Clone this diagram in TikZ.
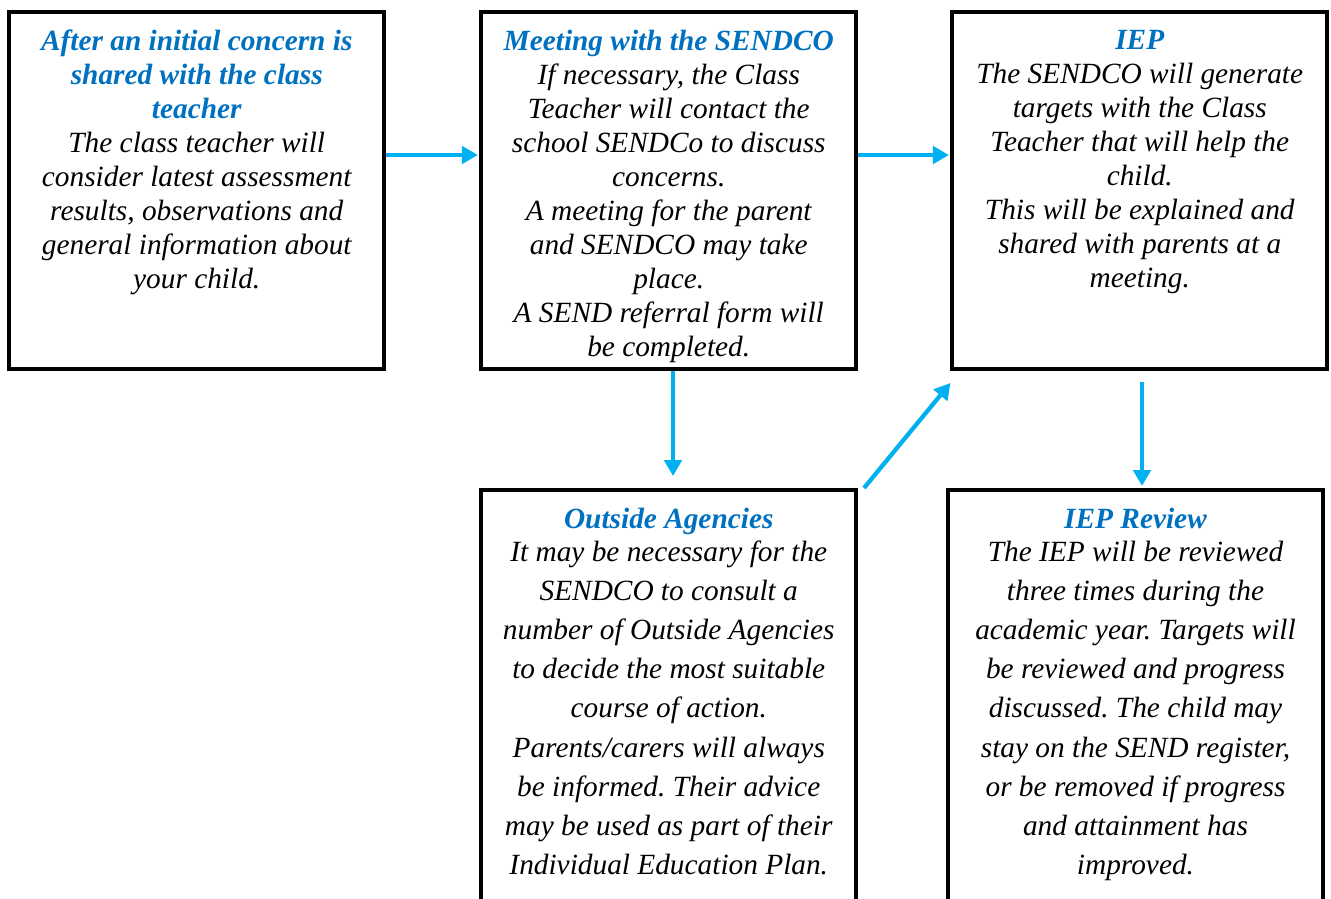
\documentclass[tikz,border=0pt]{standalone}
\usepackage{fontspec}
\setmainfont{Liberation Serif}
\usetikzlibrary{arrows.meta,positioning,calc}
\definecolor{headblue}{HTML}{0070C0}
\definecolor{flowblue}{HTML}{00B0F0}
\newcommand{\head}[1]{\textcolor{headblue}{\bfseries #1}}
\frenchspacing

\begin{document}
\begin{tikzpicture}[x=0.75pt,y=-0.75pt,
  box/.style={draw, line width=3pt, minimum width=280.9pt},
  topbox/.style={box, minimum height=268.1pt},
  lowbox/.style={box, minimum height=330pt},
  txt/.style={inner sep=0pt, align=center, font=\itshape\fontsize{22}{25.5}\selectfont},
  lowtxt/.style={txt, font=\itshape\fontsize{22}{29.3}\selectfont},
  flow/.style={draw=flowblue, line width=3.2pt, -{Triangle[length=12pt,width=13pt]}}]
\useasboundingbox (0,0) rectangle (1331,899);
\clip (0,0) rectangle (1331,899);

% Top row of boxes
\node[topbox] (b1) at (196.75,190.75) {};
\node[topbox] (b2) at (668.75,190.75) {};
\node[topbox] (b3) at (1139.75,190.75) {};

% Bottom row (runs off the page)
\node[lowbox] (b4) at (668.75,710) {};
\node[lowbox] (b5) at (1135.5,710) {};

% Texts
\node[txt, below=15pt of b1.north] (t1) {\head{After an initial concern is}\\\head{shared with the class}\\\head{teacher}\\
  The class teacher will\\consider latest assessment\\results, observations and\\general information about\\your child.};
\node[txt, below=15pt of b2.north] (t2) {\head{Meeting with the SENDCO}\\If necessary, the Class\\Teacher will contact the\\school SENDCo to discuss\\concerns.\\
  A meeting for the parent\\and SENDCO may take\\place.\\A SEND referral form will\\be completed.};
\node[txt, below=15pt of b3.north] (t3) {\head{IEP}\\The SENDCO will generate\\targets with the Class\\Teacher that will help the\\child.\\
  This will be explained and\\shared with parents at a\\meeting.};
\node[lowtxt, below=15pt of b4.north] (t4) {\head{Outside Agencies}\\[-4.5pt]It may be necessary for the\\SENDCO to consult a\\number of Outside Agencies\\to decide the most suitable\\
  course of action.\\Parents/carers will always\\be informed. Their advice\\may be used as part of their\\Individual Education Plan.};
\node[lowtxt, below=15pt of b5.north] (t5) {\head{IEP Review}\\[-4.5pt]The IEP will be reviewed\\three times during the\\academic year. Targets will\\be reviewed and progress\\
  discussed. The child may\\stay on the SEND register,\\or be removed if progress\\and attainment has\\improved.};

% Arrows
\draw[flow] ([yshift=26.8pt]b1.east) -- ([yshift=26.8pt,xshift=-1.2pt]b2.west);
\draw[flow] ([yshift=26.8pt]b2.east) -- ([yshift=26.8pt,xshift=-1.2pt]b3.west);
\draw[flow] ([xshift=3.2pt]b2.south) -- ([xshift=3.2pt,yshift=9pt]b4.north);
\draw[flow] ([xshift=4.5pt]b4.north east) -- ([yshift=-8.6pt]b3.south west);
\coordinate (r1) at ([xshift=1.7pt,yshift=-7.9pt]b3.south);
\coordinate (r2) at ([yshift=1.5pt]b5.north);
\draw[flow] (r1) -- (r1 |- r2);

\end{tikzpicture}
\end{document}
